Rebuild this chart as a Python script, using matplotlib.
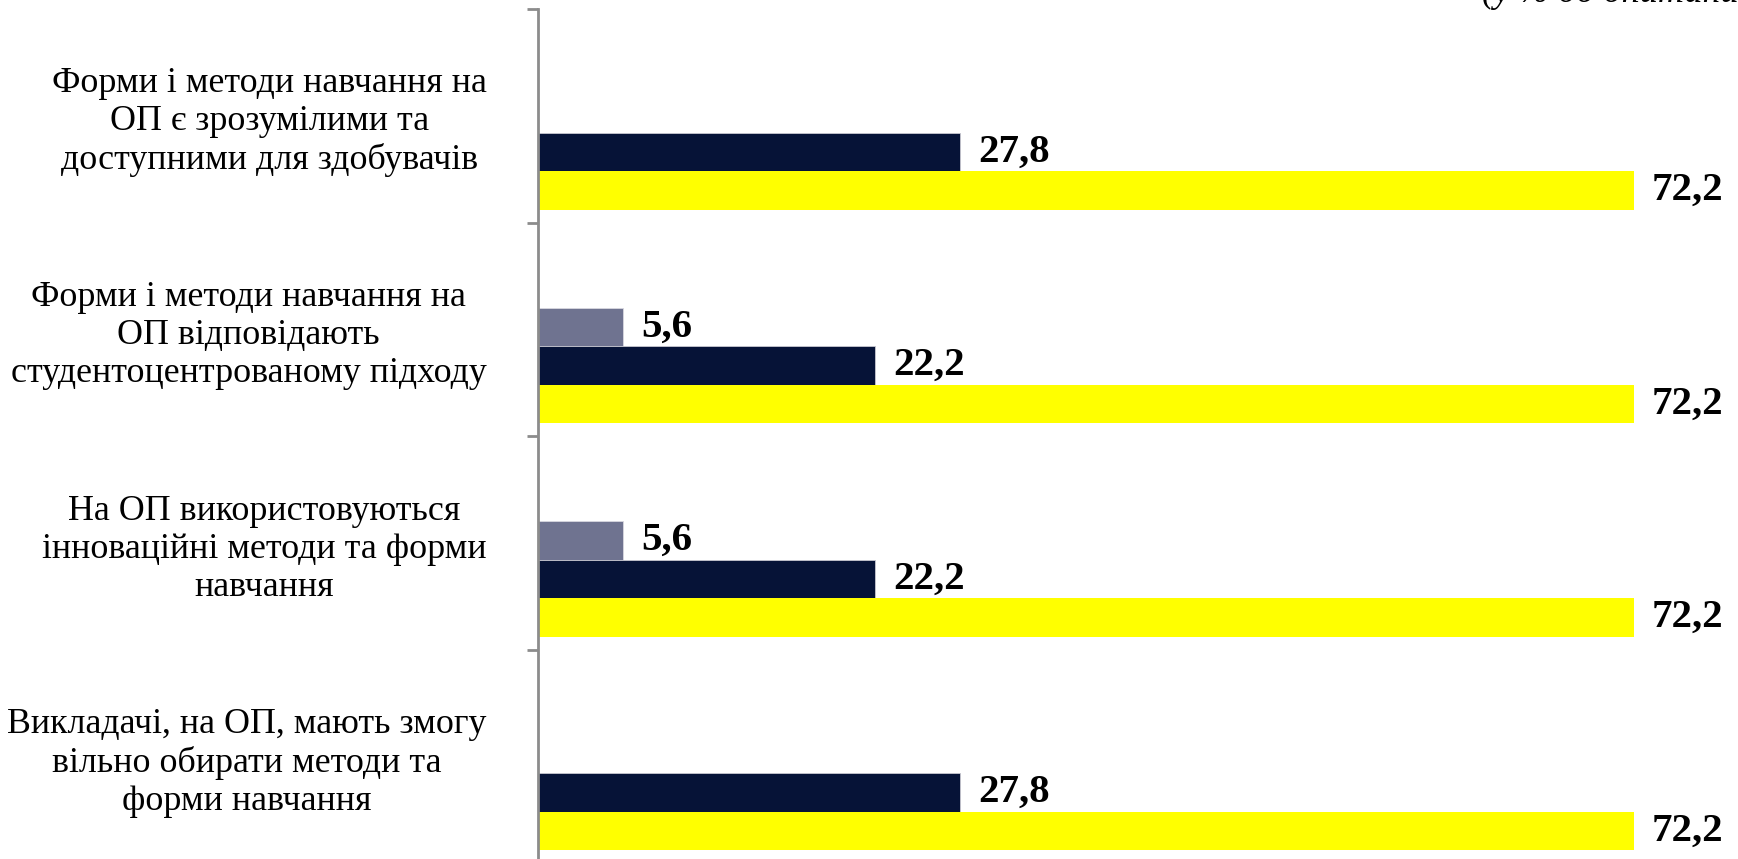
import numpy as np
import matplotlib
matplotlib.use("Agg")
import matplotlib.pyplot as plt

categories = [
    "Форми і методи навчання на\nОП є зрозумілими та\nдоступними для здобувачів",
    "Форми і методи навчання на\nОП відповідають\nстудентоцентрованому підходу",
    "На ОП використовуються\nінноваційні методи та форми\nнавчання",
    "Викладачі, на ОП, мають змогу\nвільно обирати методи та\nформи навчання",
]
gray_vals = [0, 5.6, 5.6, 0]
navy_vals = [27.8, 22.2, 22.2, 27.8]
yellow_vals = [72.2, 72.2, 72.2, 72.2]

series = [
    (gray_vals, "#6f7390", -0.01, "#d8d8e0"),
    (navy_vals, "#061337", 0.17, "#c8c8d0"),
    (yellow_vals, "#ffff00", 0.35, "none"),
]
bar_h = 0.181

plt.rcParams["font.family"] = ["Liberation Serif", "DejaVu Serif"]

fig = plt.figure(figsize=(17.38, 8.59), dpi=100)
ax = fig.add_axes([538 / 1738, -4 / 859, 1162 / 1738, 854 / 859])

y = np.arange(len(categories))
for vals, color, off, edge in series:
    vals = np.array(vals, dtype=float)
    bars = ax.barh(y + off, vals, height=bar_h, color=color,
                   edgecolor=edge, linewidth=0.6)
    for b, v in zip(bars, vals):
        if v <= 0:
            b.set_visible(False)
            continue
        ax.annotate(f"{v:.1f}".replace(".", ","),
                    (v, b.get_y() + b.get_height() / 2),
                    xytext=(13, 0), textcoords="offset points",
                    ha="left", va="center", fontsize=29.5,
                    fontweight="bold", color="black")

ax.set_xlim(0, 1162 / 15.18)
ax.set_ylim(3.5, -0.5)

for s in ["top", "right", "bottom"]:
    ax.spines[s].set_visible(False)
ax.spines["left"].set_color("#8c8c8c")
ax.spines["left"].set_linewidth(2)
ax.set_xticks([])

ax.set_yticks(np.arange(-0.5, 4.0, 1.0))
ax.set_yticklabels([])
ax.tick_params(axis="y", which="major", length=8, width=2, color="#8c8c8c",
               direction="out")
ax.set_yticks(y, minor=True)
ax.set_yticklabels(categories, minor=True, fontsize=25.8,
                   multialignment="center", linespacing=1.2)
ax.tick_params(axis="y", which="minor", length=0, pad=37)

fig.text(1482 / 1738, 1 - 1.5 / 859, "(у % до опитаних)", fontsize=26,
         style="italic", ha="left", va="baseline")

fig.savefig("out.png", dpi=100)
